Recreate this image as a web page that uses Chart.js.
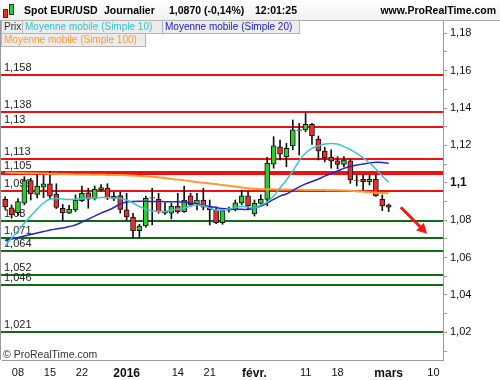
<!DOCTYPE html>
<html>
<head>
<meta charset="utf-8">
<script src="https://cdn.jsdelivr.net/npm/chart.js@4.4.1/dist/chart.umd.min.js"></script>
<style>
  body { margin: 0; background: #fff; }
  #wrap { position: relative; width: 500px; height: 380px; overflow: hidden; font-family: Arial, "Liberation Sans", sans-serif; }
  #chart { position: absolute; left: 0; top: 0; }
  #head { position: absolute; left: 0; top: 0; width: 500px; height: 21px; box-sizing: border-box; border-bottom: 1px solid #a8a8a8; background: linear-gradient(#ffffff, #f0f0f0); font-size: 10.5px; font-weight: bold; color: #000; }
  #head span { position: absolute; top: 4px; white-space: nowrap; }
  .leg { position: absolute; height: 14px; line-height: 12px; font-size: 10px; border: 1px solid #b4b4b4; background: #ececec; padding: 0 2px; box-sizing: border-box; white-space: nowrap; overflow: hidden; }
  .ic { position: absolute; border: 1px solid #333; width: 3px; }
  #copy { position: absolute; left: 3px; top: 348px; font-size: 10.5px; color: #333; }
</style>
</head>
<body>
<div id="wrap">
  <canvas id="chart" width="500" height="380"></canvas>
  <div id="head">
    <div class="ic" style="left:3px;top:9px;height:7px;background:#ee2c2c"></div>
    <div class="ic" style="left:9px;top:4px;height:9px;background:#2ecc2e"></div>
    <span style="left:24px">Spot EUR/USD</span>
    <span style="left:104px">Journalier</span>
    <span style="left:169px">1,0870 (-0,14%)</span>
    <span style="left:255px">12:01:25</span>
    <span style="right:4px">www.ProRealTime.com</span>
  </div>
  <div class="leg" style="left:1px;top:20px;width:22px;color:#333">Prix</div>
  <div class="leg" style="left:22px;top:20px;width:141px;color:#33c4cc">Moyenne mobile (Simple 10)</div>
  <div class="leg" style="left:162px;top:20px;width:138px;color:#1a1acc">Moyenne mobile (Simple 20)</div>
  <div class="leg" style="left:1px;top:33px;width:145px;color:#ff9933">Moyenne mobile (Simple 100)</div>
  <div id="copy">© ProRealTime.com</div>
</div>
<script>
// daily candles, 4 Dec 2015 .. 1 Mar 2016 (one entry per trading day)
const opens = [1.0911,1.0866,1.0840,1.0891,1.1012,1.0938,1.0977,1.0994,1.0940,1.0863,
  1.0837,1.0855,1.0904,1.0947,1.0917,1.0963,1.0972,1.0917,1.0931,1.0855,
  1.0816,1.0744,1.0769,1.0918,1.0912,1.0850,1.0837,1.0876,1.0846,1.0930,
  1.0887,1.0908,1.0872,1.0855,1.0787,1.0853,1.0855,1.0893,1.0930,1.0835,
  1.0890,1.0911,1.1100,1.1193,1.1140,1.1197,1.1280,1.1283,1.1313,1.1234,
  1.1170,1.1137,1.1117,1.1099,1.1117,1.1015,1.1019,1.1006,1.1019,1.0911,
  1.0882];
const highs = [1.0925,1.0882,1.0915,1.1033,1.1024,1.1042,1.1045,1.1062,1.0995,1.0885,
  1.0880,1.0935,1.0983,1.0971,1.0983,1.0990,1.0995,1.0949,1.0950,1.0944,
  1.0837,1.0778,1.0929,1.0971,1.0944,1.0893,1.0891,1.0944,1.0983,1.0944,
  1.0944,1.0971,1.0908,1.0872,1.0855,1.0870,1.0908,1.0960,1.0955,1.0908,
  1.0935,1.1137,1.1247,1.1229,1.1211,1.1336,1.1318,1.1377,1.1318,1.1250,
  1.1190,1.1176,1.1140,1.1140,1.1126,1.1042,1.1042,1.1042,1.1040,1.0935,
  1.0887];
const lows = [1.0858,1.0812,1.0825,1.0882,1.0908,1.0919,1.0920,1.0912,1.0862,1.0797,
  1.0835,1.0846,1.0899,1.0864,1.0908,1.0955,1.0910,1.0905,1.0838,1.0800,
  1.0703,1.0703,1.0762,1.0775,1.0837,1.0829,1.0807,1.0837,1.0841,1.0873,
  1.0855,1.0855,1.0774,1.0781,1.0778,1.0843,1.0850,1.0882,1.0855,1.0822,
  1.0880,1.0877,1.1078,1.1122,1.1086,1.1176,1.1149,1.1273,1.1205,1.1122,
  1.1112,1.1078,1.1075,1.1085,1.0997,1.0983,1.0953,1.0988,1.0927,1.0851,
  1.0846];
const closes = [1.0871,1.0828,1.0899,1.1012,1.0940,1.0983,1.0994,1.0929,1.0868,1.0840,
  1.0859,1.0908,1.0944,1.0912,1.0965,1.0974,1.0919,1.0928,1.0858,1.0818,
  1.0744,1.0769,1.0917,1.0921,1.0846,1.0837,1.0876,1.0846,1.0908,1.0882,
  1.0908,1.0869,1.0855,1.0787,1.0851,1.0858,1.0893,1.0930,1.0876,1.0890,
  1.0911,1.1105,1.1198,1.1153,1.1185,1.1283,1.1283,1.1313,1.1252,1.1170,
  1.1134,1.1117,1.1099,1.1122,1.1015,1.1013,1.1006,1.1019,1.0930,1.0876,
  1.0870];

// moving averages
const sma10 = [1.0662,1.0705,1.0742,1.0785,1.0822,1.0860,1.0892,1.0913,1.0916,1.0913,
  1.0911,1.0913,1.0916,1.0919,1.0919,1.0921,1.0921,1.0919,1.0916,1.0908,
  1.0892,1.0873,1.0860,1.0849,1.0846,1.0846,1.0854,1.0860,1.0865,1.0876,
  1.0881,1.0876,1.0865,1.0854,1.0854,1.0860,1.0868,1.0873,1.0870,1.0865,
  1.0881,1.0897,1.0929,1.0972,1.1015,1.1063,1.1117,1.1159,1.1184,1.1197,
  1.1208,1.1210,1.1208,1.1194,1.1178,1.1157,1.1133,1.1106,1.1074,1.1036,
  1.1004];
const sma20 = [1.0691,1.0699,1.0707,1.0715,1.0723,1.0731,1.0739,1.0747,1.0753,1.0758,
  1.0766,1.0774,1.0790,1.0806,1.0822,1.0838,1.0852,1.0868,1.0887,1.0897,
  1.0900,1.0901,1.0901,1.0900,1.0900,1.0899,1.0899,1.0898,1.0897,1.0892,
  1.0887,1.0879,1.0873,1.0868,1.0862,1.0860,1.0858,1.0858,1.0858,1.0865,
  1.0876,1.0892,1.0911,1.0929,1.0940,1.0959,1.0978,1.0994,1.1007,1.1020,
  1.1036,1.1050,1.1063,1.1077,1.1087,1.1095,1.1101,1.1106,1.1110,1.1109,
  1.1104];
const sma100 = [1.1055,1.1054,1.1053,1.1052,1.1051,1.1051,1.1050,1.1049,1.1048,1.1047,
  1.1046,1.1045,1.1044,1.1044,1.1043,1.1043,1.1042,1.1042,1.1042,1.1041,
  1.1039,1.1037,1.1035,1.1032,1.1029,1.1026,1.1021,1.1017,1.1013,1.1008,
  1.1004,1.1000,1.0996,1.0993,1.0988,1.0984,1.0980,1.0975,1.0971,1.0968,
  1.0966,1.0965,1.0965,1.0964,1.0964,1.0963,1.0963,1.0962,1.0962,1.0962,
  1.0961,1.0960,1.0960,1.0959,1.0958,1.0955,1.0953,1.0950,1.0947,1.0946,
  1.0944];

// horizontal support / resistance levels
const levelValues = [1.1575, 1.1377, 1.1297, 1.1126, 1.1051, 1.0955, 1.0796, 1.0703, 1.0633, 1.0509, 1.0451, 1.0200];
const levelLabels = ['1,158', '1,138', '1,13', '1,113', '1,105', '1,096', '1,08', '1,071', '1,064', '1,052', '1,046', '1,021'];
const majorLevel = '1,105';

// x axis: trading-day index -> label
const tickIdx = [2, 7, 12, 19, 27, 32, 39, 47, 52, 60, 67];
const tickText = ['08', '15', '22', '2016', '14', '21', 'févr.', '11', '18', 'mars', '10'];
const boldTicks = ['2016', 'févr.', 'mars'];
const nSlots = 69;

// trend arrow, in (day index, price)
const arrowFrom = [61.9, 1.0869];
const arrowTo = [66.0, 1.0728];

const yMin = 1.0052, yMax = 1.1871;

const UP = '#2ecc2e', DOWN = '#ee2c2c';
const lastClose = closes[closes.length - 1];
const labels = Array.from({ length: nSlots }, (_, i) => i);
const tickMap = {};
tickIdx.forEach((k, i) => { tickMap[k] = tickText[i]; });
const FONT = 'Arial, "Liberation Sans", sans-serif';

const levelsPlugin = {
  id: 'levels',
  beforeDatasetsDraw(chart) {
    const { ctx, chartArea: a, scales: { y } } = chart;
    ctx.save();
    ctx.font = '11px ' + FONT;
    ctx.textBaseline = 'bottom';
    levelValues.forEach((v, i) => {
      const py = Math.round(y.getPixelForValue(v));
      ctx.strokeStyle = v > lastClose ? '#f01010' : '#126a12';
      ctx.lineWidth = levelLabels[i] === majorLevel ? 4 : 2;
      ctx.beginPath();
      ctx.moveTo(0, py);
      ctx.lineTo(a.right, py);
      ctx.stroke();
      ctx.fillStyle = '#222';
      ctx.fillText(levelLabels[i], 4, py - 2);
    });
    // left frame line
    ctx.strokeStyle = '#9a9a9a';
    ctx.lineWidth = 1;
    ctx.beginPath();
    ctx.moveTo(0.5, a.top);
    ctx.lineTo(0.5, a.bottom);
    ctx.stroke();
    ctx.restore();
  },
  afterDatasetsDraw(chart) {
    const { ctx, scales: { x, y } } = chart;
    const x0 = x.getPixelForValue(arrowFrom[0]), y0 = y.getPixelForValue(arrowFrom[1]);
    const x1 = x.getPixelForValue(arrowTo[0]), y1 = y.getPixelForValue(arrowTo[1]);
    const ang = Math.atan2(y1 - y0, x1 - x0);
    const hl = 10, hw = 5.5;
    ctx.save();
    ctx.strokeStyle = '#f01818';
    ctx.fillStyle = '#f01818';
    ctx.lineWidth = 3;
    ctx.beginPath();
    ctx.moveTo(x0, y0);
    ctx.lineTo(x1 - Math.cos(ang) * hl * 0.8, y1 - Math.sin(ang) * hl * 0.8);
    ctx.stroke();
    ctx.beginPath();
    ctx.moveTo(x1, y1);
    ctx.lineTo(x1 - Math.cos(ang) * hl + Math.sin(ang) * hw, y1 - Math.sin(ang) * hl - Math.cos(ang) * hw);
    ctx.lineTo(x1 - Math.cos(ang) * hl - Math.sin(ang) * hw, y1 - Math.sin(ang) * hl + Math.cos(ang) * hw);
    ctx.closePath();
    ctx.fill();
    ctx.restore();
  }
};

const maLine = (data, color, width) => ({
  type: 'line', data, borderColor: color, borderWidth: width,
  pointRadius: 0, tension: 0.3, fill: false, order: 0
});

new Chart(document.getElementById('chart'), {
  type: 'bar',
  data: {
    labels,
    datasets: [
      maLine(sma10, '#38c6d0', 1.5),
      maLine(sma20, '#2424cc', 1.5),
      maLine(sma100, '#ff9a33', 2),
      {
        // candle bodies
        data: opens.map((o, i) => [o, closes[i]]),
        backgroundColor: opens.map((o, i) => closes[i] >= o ? UP : DOWN),
        borderColor: '#111', borderWidth: 1, borderSkipped: false,
        barThickness: 5, grouped: false, order: 1
      },
      {
        // wicks
        data: lows.map((l, i) => [l, highs[i]]),
        backgroundColor: '#111', barThickness: 1, grouped: false, order: 2
      }
    ]
  },
  options: {
    responsive: false,
    animation: false,
    devicePixelRatio: 1,
    layout: { padding: { top: 20, left: 2, right: 0, bottom: 0 } },
    plugins: { legend: { display: false }, tooltip: { enabled: false } },
    scales: {
      x: {
        offset: true,
        grid: { display: false, drawTicks: false },
        border: { display: true, color: '#9a9a9a' },
        ticks: {
          autoSkip: false, maxRotation: 0, padding: 6, color: '#111',
          callback: (v, i) => tickMap[i] ?? null,
          font: ctx => {
            const lab = ctx.tick ? (ctx.tick.label ?? tickMap[ctx.tick.value]) : null;
            return boldTicks.includes(lab)
              ? { family: FONT, size: 12, weight: 'bold' }
              : { family: FONT, size: 11 };
          }
        },
        afterFit: s => { s.height = 20; }
      },
      y: {
        position: 'right',
        min: yMin, max: yMax,
        grid: { drawOnChartArea: false, drawTicks: true, tickLength: 4, color: '#9a9a9a' },
        border: { display: true, color: '#9a9a9a' },
        ticks: {
          stepSize: 0.01, includeBounds: false, padding: 3, color: '#111',
          callback: v => {
            const h = Math.round(v * 100);
            return h % 2 === 0 ? String(h / 100).replace('.', ',') : '';
          },
          font: ctx => (ctx.tick && Math.round(ctx.tick.value * 100) === 110)
            ? { family: FONT, size: 12, weight: 'bold' }
            : { family: FONT, size: 11 }
        },
        afterFit: s => { s.width = 57; }
      }
    }
  },
  plugins: [levelsPlugin]
});
</script>
</body>
</html>
